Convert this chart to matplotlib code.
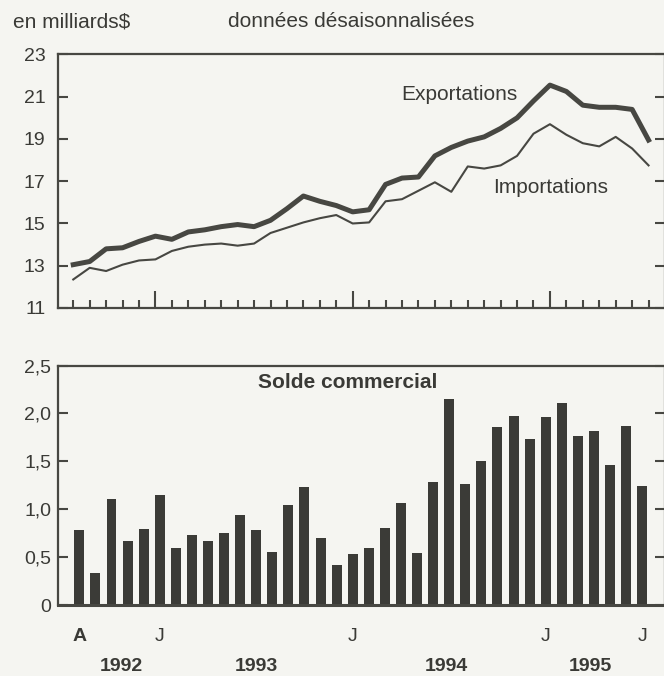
import matplotlib.pyplot as plt
import numpy as np

plt.rcParams['font.family'] = ['Liberation Sans', 'DejaVu Sans']

# valeurs mensuelles, août 1992 à juillet 1995 (milliards $)
exportations = [13.05, 13.2, 13.8, 13.85, 14.15, 14.4, 14.25, 14.6, 14.7, 14.85,
                14.95, 14.85, 15.15, 15.7, 16.3, 16.05, 15.85, 15.55, 15.65, 16.85,
                17.15, 17.2, 18.2, 18.6, 18.9, 19.1, 19.5, 20.0, 20.8, 21.55,
                21.25, 20.6, 20.5, 20.5, 20.4, 18.95]
importations = [12.35, 12.9, 12.75, 13.05, 13.25, 13.3, 13.7, 13.9, 14.0, 14.05,
                13.95, 14.05, 14.55, 14.8, 15.05, 15.25, 15.4, 15.0, 15.05, 16.05,
                16.15, 16.55, 16.95, 16.5, 17.7, 17.6, 17.75, 18.2, 19.25, 19.7,
                19.2, 18.8, 18.65, 19.1, 18.55, 17.75]
solde = [0.78, 0.33, 1.11, 0.67, 0.79, 1.15, 0.60, 0.73, 0.67, 0.75,
         0.94, 0.78, 0.55, 1.04, 1.23, 0.70, 0.42, 0.53, 0.60, 0.80,
         1.06, 0.54, 1.28, 2.15, 1.26, 1.50, 1.86, 1.97, 1.73, 1.96,
         2.11, 1.76, 1.82, 1.46, 1.87, 1.24]

janvier = [5, 17, 29]
mois_pos = [0, 5, 17, 29, 35]
mois_lbl = ["A", "J", "J", "J", "J"]
annees = ["1992", "1993", "1994", "1995"]
annees_pos = [2.6, 11.0, 22.8, 31.8]

mois = np.arange(len(exportations))

fond = '#f5f5f1'
gris = '#474742'
barre = '#3b3b37'
texte = '#3a3a36'

fig = plt.figure(figsize=(6.64, 6.76), dpi=100, facecolor=fond)

# --- exportations / importations
ax1 = fig.add_axes([0.0873, 0.5444, 0.9142, 0.375])
ax1.set_facecolor(fond)
ax1.plot(mois, exportations, color=gris, lw=3.6, solid_joinstyle='round')
ax1.plot(mois, importations, color=gris, lw=1.5, solid_joinstyle='round')
ax1.set_xlim(-0.93, 36.0)
ax1.set_ylim(11, 23)
ax1.set_yticks(range(11, 24, 2))
ax1.tick_params(axis='y', direction='in', length=7, width=1.5, right=True,
                labelsize=14, pad=9, colors=gris, labelcolor=texte)
ax1.set_xticks(janvier)
ax1.set_xticks(mois, minor=True)
ax1.tick_params(axis='x', which='major', direction='in', length=12, width=1.5,
                labelbottom=False, colors=gris)
ax1.tick_params(axis='x', which='minor', direction='in', length=6, width=1.5,
                colors=gris)
for s in ax1.spines.values():
    s.set_color(gris)
    s.set_linewidth(1.6)
ax1.text(19.95, 21.1, "Exportations", ha='left', va='center', fontsize=15, color=texte)
ax1.text(25.55, 16.68, "Importations", ha='left', va='center', fontsize=15, color=texte)

# --- solde commercial
ax2 = fig.add_axes([0.0873, 0.1050, 0.9142, 0.3543])
ax2.set_facecolor(fond)
ax2.bar(mois, solde, width=0.62, color=barre)
ax2.set_xlim(-1.33, 36.42)
ax2.set_ylim(0, 2.5)
ax2.set_yticks([0, 0.5, 1.0, 1.5, 2.0, 2.5])
ax2.set_yticklabels(["0", "0,5", "1,0", "1,5", "2,0", "2,5"])
ax2.tick_params(axis='y', direction='in', length=7, width=1.5, right=True,
                labelsize=14, pad=5, colors=gris, labelcolor=texte)
ax2.set_xticks([])
for s in ax2.spines.values():
    s.set_color(gris)
    s.set_linewidth(1.6)
ax2.spines['bottom'].set_linewidth(2.2)
ax2.text(16.7, 2.32, "Solde commercial", ha='center', va='center', fontsize=15,
         fontweight='bold', color=texte)

tr = ax2.get_xaxis_transform()
for p, l in zip(mois_pos, mois_lbl):
    ax2.text(p, -0.132, l, ha='center', va='center', fontsize=14, color=texte,
             fontweight='bold' if l == "A" else 'normal', transform=tr)
for p, a in zip(annees_pos, annees):
    ax2.text(p, -0.258, a, ha='center', va='center', fontsize=14, color=texte,
             fontweight='bold', transform=tr)

fig.text(0.0196, 0.9675, "en milliards$", ha='left', va='center', fontsize=15, color=texte)
fig.text(0.343, 0.9675, "données désaisonnalisées", ha='left', va='center',
         fontsize=15, color=texte)

fig.savefig("out.png", dpi=100, facecolor=fond)
